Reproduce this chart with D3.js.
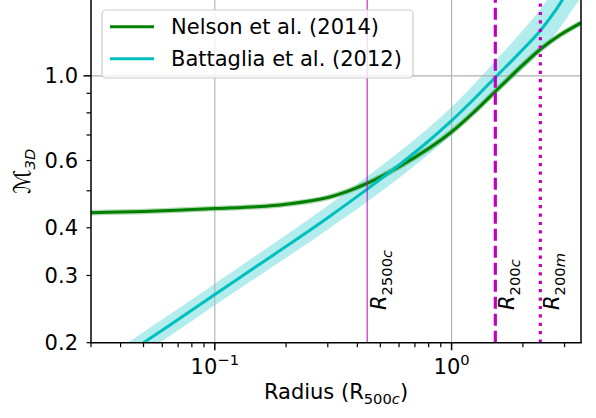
<!DOCTYPE html>
<html>
<head>
<meta charset="utf-8">
<script src="https://cdn.jsdelivr.net/npm/d3@7"></script>
<style>
body { margin: 0; background: #fff; }
text { font-family: "DejaVu Sans", sans-serif; fill: #000; }
</style>
</head>
<body>
<svg id="chart" width="596" height="418"></svg>
<script>

// radius in units of R500c, Mach number
var nelsonR = [0.03, 0.05, 0.1, 0.15, 0.2, 0.3, 0.44, 0.6, 0.8, 1.0, 1.25, 1.53, 2.0, 2.37, 2.87, 3.52];
var nelsonM = [0.438, 0.441, 0.449, 0.454, 0.461, 0.480, 0.523, 0.578, 0.645, 0.713, 0.806, 0.910, 1.068, 1.173, 1.279, 1.376];

var battagliaR  = [0.04, 0.05, 0.07, 0.1, 0.15, 0.22, 0.3, 0.44, 0.6, 0.8, 1.0, 1.25, 1.53, 1.9, 2.37, 2.7, 3.0, 3.52];
var battagliaM  = [0.182, 0.2, 0.230, 0.2675, 0.317, 0.372, 0.425, 0.505, 0.584, 0.675, 0.763, 0.872, 0.991, 1.135, 1.313, 1.461, 1.614, 1.888];
var battagliaLo = [0.1706, 0.1875, 0.2156, 0.2508, 0.2965, 0.3472, 0.3957, 0.4681, 0.5400, 0.6228, 0.7023, 0.7971, 0.8976, 1.0139, 1.1542, 1.2696, 1.3897, 1.6070];
var battagliaHi = [0.1941, 0.2133, 0.2453, 0.2853, 0.3389, 0.3986, 0.4565, 0.5448, 0.6315, 0.7316, 0.8289, 0.9540, 1.0942, 1.2705, 1.4937, 1.6813, 1.8745, 2.2182];

var xMajorTicks = [0.1, 1];
var xMajorLabels = ["−1", "0"];
var xMinorTicks = [0.03, 0.04, 0.05, 0.06, 0.07, 0.08, 0.09, 0.2, 0.3, 0.4, 0.5, 0.6, 0.7, 0.8, 0.9, 2, 3];
var yMinorTicks = [0.2, 0.3, 0.4, 0.5, 0.6, 0.7, 0.8, 0.9];
var yMinorLabels = ["0.2", "0.3", "0.4", "", "0.6", "", "", ""];
var yMajorTicks = [1.0];
var yMajorLabels = ["1.0"];

var radiusNames = ["2500c", "200c", "200m"];
var radiusValues = [0.44, 1.53, 2.37];

var legendNames = ["Nelson et al. (2014)", "Battaglia et al. (2012)"];

// plot box (top edge lies just above the picture)
var pLeft = 91, pRight = 581, pBottom = 342.7, pTop = 0;
var green = "#008000", cyan = "#00bfbf", magenta = "#bf00bf", gridColor = "#b0b0b0";

var svg = d3.select("#chart");

var x = d3.scaleLog().domain([0.03, 3.52]).range([pLeft, pRight]);
var y = d3.scaleLog().domain([0.2, 1.58]).range([pBottom, pTop]);

svg.append("defs").append("clipPath").attr("id", "clip")
  .append("rect").attr("x", pLeft).attr("y", -10).attr("width", pRight - pLeft).attr("height", pBottom + 10);

var plot = svg.append("g").attr("clip-path", "url(#clip)");

var smooth = d3.curveCatmullRom.alpha(0.5);

// band
var band = d3.area()
  .x(function(d, i){ return x(battagliaR[i]); })
  .y0(function(d, i){ return y(battagliaLo[i]); })
  .y1(function(d, i){ return y(battagliaHi[i]); })
  .curve(smooth);

plot.append("path").datum(battagliaR)
  .attr("d", band)
  .attr("fill", cyan)
  .attr("fill-opacity", 0.3);

// grid
for (let t of xMajorTicks){
  plot.append("line").attr("x1", x(t)).attr("x2", x(t)).attr("y1", pTop - 10).attr("y2", pBottom)
    .attr("stroke", gridColor).attr("stroke-width", 1.1);
}
for (let t of yMajorTicks){
  plot.append("line").attr("x1", pLeft).attr("x2", pRight).attr("y1", y(t)).attr("y2", y(t))
    .attr("stroke", gridColor).attr("stroke-width", 1.1);
}

var line = d3.line()
  .x(function(d){ return x(d[0]); })
  .y(function(d){ return y(d[1]); })
  .curve(smooth);

var nelsonPts = nelsonR.map(function(r, i){ return [r, nelsonM[i]]; });
var battagliaPts = battagliaR.map(function(r, i){ return [r, battagliaM[i]]; });

// faint halo round the Nelson curve
plot.append("path").datum(nelsonPts).attr("d", line)
  .attr("fill", "none").attr("stroke", green).attr("stroke-opacity", 0.3).attr("stroke-width", 5.5);
plot.append("path").datum(nelsonPts).attr("d", line)
  .attr("fill", "none").attr("stroke", green).attr("stroke-width", 3);

plot.append("path").datum(battagliaPts).attr("d", line)
  .attr("fill", "none").attr("stroke", cyan).attr("stroke-width", 3);

// characteristic radii
var radiusWidth = [1, 3.2, 3.2];
var radiusDash = [null, "12,5", "3.2,5.2"];
radiusValues.forEach(function(v, i){
  plot.append("line")
    .attr("x1", x(v)).attr("x2", x(v))
    .attr("y1", pBottom).attr("y2", pTop - 10)
    .attr("stroke", magenta)
    .attr("stroke-width", radiusWidth[i])
    .attr("stroke-dasharray", radiusDash[i]);

  let lab = svg.append("text")
    .attr("transform", "translate(" + (x(v) + 19) + ",310) rotate(-90)")
    .style("font-size", "21px");
  lab.append("tspan").style("font-style", "italic").text("R");
  lab.append("tspan").attr("dy", 6).style("font-size", "14.7px").text(radiusNames[i].slice(0, -1));
  lab.append("tspan").style("font-size", "14.7px").style("font-style", "italic").text(radiusNames[i].slice(-1));
});

// spines
svg.append("line").attr("x1", pLeft).attr("x2", pLeft).attr("y1", pTop - 10).attr("y2", pBottom)
  .attr("stroke", "#000").attr("stroke-width", 1.5);
svg.append("line").attr("x1", pRight).attr("x2", pRight).attr("y1", pTop - 10).attr("y2", pBottom)
  .attr("stroke", "#000").attr("stroke-width", 1.5);
svg.append("line").attr("x1", pLeft - 0.75).attr("x2", pRight + 0.75).attr("y1", pBottom).attr("y2", pBottom)
  .attr("stroke", "#000").attr("stroke-width", 1.5);

// x ticks
for (let t of xMinorTicks){
  svg.append("line").attr("x1", x(t)).attr("x2", x(t)).attr("y1", pBottom).attr("y2", pBottom + 4.5)
    .attr("stroke", "#000").attr("stroke-width", 1.2);
}
xMajorTicks.forEach(function(t, i){
  svg.append("line").attr("x1", x(t)).attr("x2", x(t)).attr("y1", pBottom).attr("y2", pBottom + 7.5)
    .attr("stroke", "#000").attr("stroke-width", 1.5);
  let tx = svg.append("text").attr("x", x(t)).attr("y", 373.5)
    .attr("text-anchor", "middle").style("font-size", "21px");
  tx.append("tspan").text("10");
  tx.append("tspan").attr("dy", -8.5).style("font-size", "14.7px").text(xMajorLabels[i]);
});

// y ticks
yMinorTicks.forEach(function(t, i){
  svg.append("line").attr("x1", pLeft - 4.5).attr("x2", pLeft).attr("y1", y(t)).attr("y2", y(t))
    .attr("stroke", "#000").attr("stroke-width", 1.2);
  if (yMinorLabels[i] !== ""){
    svg.append("text").attr("x", 78).attr("y", y(t)).attr("dy", "0.36em")
      .attr("text-anchor", "end").style("font-size", "21px").text(yMinorLabels[i]);
  }
});
yMajorTicks.forEach(function(t, i){
  svg.append("line").attr("x1", pLeft - 7.5).attr("x2", pLeft).attr("y1", y(t)).attr("y2", y(t))
    .attr("stroke", "#000").attr("stroke-width", 1.5);
  svg.append("text").attr("x", 78).attr("y", y(t)).attr("dy", "0.36em")
    .attr("text-anchor", "end").style("font-size", "21px").text(yMajorLabels[i]);
});

// axis labels
var xl = svg.append("text").attr("x", (pLeft + pRight) / 2).attr("y", 399)
  .attr("text-anchor", "middle").style("font-size", "21px");
xl.append("tspan").text("Radius (R");
xl.append("tspan").attr("dy", 5).style("font-size", "14.7px").text("500");
xl.append("tspan").style("font-size", "14.7px").style("font-style", "italic").text("c");
xl.append("tspan").attr("dy", -5).text(")");

var yl = svg.append("text")
  .attr("transform", "translate(30," + ((pTop + pBottom) / 2) + ") rotate(-90)")
  .attr("text-anchor", "middle").style("font-size", "21px");
yl.append("tspan").style("font-size", "23px").text("ℳ");
yl.append("tspan").attr("dy", 5).style("font-size", "14.7px").style("font-style", "italic").text("3D");

// legend
var lg = svg.append("g");
lg.append("rect").attr("x", 102).attr("y", 10).attr("width", 311).attr("height", 68).attr("rx", 4)
  .attr("fill", "#fff").attr("fill-opacity", 0.8).attr("stroke", "#cccccc").attr("stroke-width", 1.2);
var legendColors = [green, cyan];
legendNames.forEach(function(name, i){
  let ly = 26.7 + 32 * i;
  lg.append("line").attr("x1", 110).attr("x2", 154).attr("y1", ly).attr("y2", ly)
    .attr("stroke", legendColors[i]).attr("stroke-width", 3);
  lg.append("text").attr("x", 171).attr("y", ly).attr("dy", "0.36em")
    .style("font-size", "21px").text(name);
});

</script>
</body>
</html>
